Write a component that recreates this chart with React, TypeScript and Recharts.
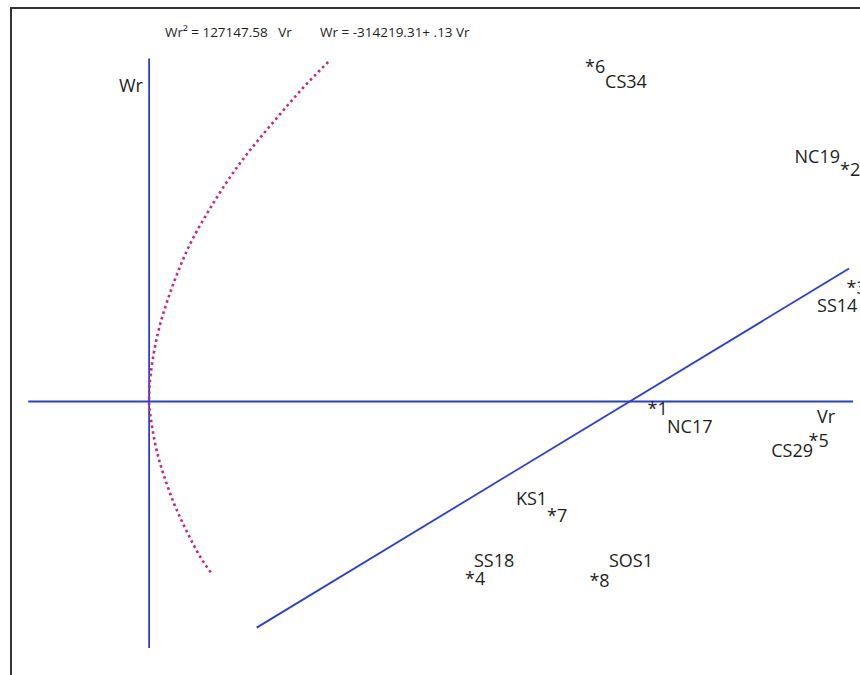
import React from 'react';
import { ComposedChart, Scatter, XAxis, YAxis } from 'recharts';

// Vr and Wr in thousands
const vrDomain = [-750, 3575];
const wrDomain = [-295, 433];

// axis lines through the origin
const vrAxisVr = [-608, 3540];
const vrAxisWr = [0, 0];
const wrAxisVr = [0, 0];
const wrAxisWr = [370, -266];

// regression line, Wr = -314219.31 + .13 Vr
const regressionVr = [541, 3520];
const regressionWr = [-243.9, 143.4];

// parabola Wr² = 127147.58 Vr, traced from upper end to lower end
const parabolaVr = [900.2, 764.4, 633.7, 507.9, 397.3, 301.7, 216.2, 148.4, 93.0, 47.8, 17.6, 2.5, 0, 4.5, 29.7, 69.9, 124.2, 185.6, 257.5, 316.8];
const parabolaWr = [366.1, 336.0, 303.6, 271.2, 238.9, 206.5, 174.2, 141.8, 109.5, 77.1, 44.8, 17.8, 0, -12.4, -44.8, -77.1, -109.5, -138.6, -167.7, -186.0];

// parents
const pointIds = [1, 2, 3, 4, 5, 6, 7, 8];
const pointNames = ['NC17', 'NC19', 'SS14', 'SS18', 'CS29', 'CS34', 'KS1', 'SOS1'];
const pointVr = [2529, 3497, 3530, 1611, 3339, 2215, 2024, 2237];
const pointWr = [-3, 255, 128, -186, -37, 366, -118, -188];

// where each name sits relative to its asterisk
const namePlacement: Record<string, { dx: number; dy: number; anchor: 'start' | 'end' }> = {
  NC17: { dx: 15, dy: 29, anchor: 'start' },
  NC19: { dx: -4.5, dy: -2, anchor: 'end' },
  SS14: { dx: -34, dy: 29, anchor: 'start' },
  SS18: { dx: 4.5, dy: -7, anchor: 'start' },
  CS29: { dx: 0, dy: 21, anchor: 'end' },
  CS34: { dx: 15.5, dy: 26, anchor: 'start' },
  KS1: { dx: -4.5, dy: -6, anchor: 'end' },
  SOS1: { dx: 15, dy: -9, anchor: 'start' },
};

const zip = (vr: number[], wr: number[]) => vr.map((v, i) => ({ vr: v, wr: wr[i] }));

const vrAxisData = zip(vrAxisVr, vrAxisWr);
const wrAxisData = zip(wrAxisVr, wrAxisWr);
const regressionData = zip(regressionVr, regressionWr);
const parabolaData = zip(parabolaVr, parabolaWr);
const pointData = pointIds.map((id, i) => ({ id, name: pointNames[i], vr: pointVr[i], wr: pointWr[i] }));

const BLUE = '#2c3fcc';
const MAGENTA = '#c8287f';
const INK = '#1e1e1e';
const FONT = '"Open Sans", sans-serif';

const noDot = () => <g />;

const ParentMark = (props: any) => {
  const { cx, cy, payload } = props;
  const p = namePlacement[payload.name];
  return (
    <g fontFamily={FONT} fontSize={18} fill={INK}>
      <text x={cx - 4.5} y={cy + 11}>*{payload.id}</text>
      <text x={cx + p.dx} y={cy + p.dy} textAnchor={p.anchor}>{payload.name}</text>
    </g>
  );
};

export default function App() {
  return (
    <div style={{ position: 'absolute', left: 0, top: 0, width: 860, height: 675, background: '#fff' }}>
      <div
        style={{
          position: 'absolute',
          left: 10,
          top: 7,
          right: 0,
          bottom: 0,
          borderTop: '2px solid #333',
          borderLeft: '2px solid #333',
        }}
      />
      <ComposedChart width={860} height={675} margin={{ top: 0, right: 0, bottom: 0, left: 0 }} style={{ position: 'absolute', left: 0, top: 0 }}>
        <XAxis type="number" dataKey="vr" domain={vrDomain} hide allowDataOverflow />
        <YAxis type="number" dataKey="wr" domain={wrDomain} hide allowDataOverflow />
        <Scatter data={vrAxisData} line={{ stroke: BLUE, strokeWidth: 1.8 }} shape={noDot} isAnimationActive={false} />
        <Scatter data={wrAxisData} line={{ stroke: BLUE, strokeWidth: 1.8 }} shape={noDot} isAnimationActive={false} />
        <Scatter data={regressionData} line={{ stroke: BLUE, strokeWidth: 1.8 }} shape={noDot} isAnimationActive={false} />
        <Scatter
          data={parabolaData}
          line={{ stroke: MAGENTA, strokeWidth: 2.6, strokeDasharray: '2.6 3.2' }}
          lineJointType="natural"
          shape={noDot}
          isAnimationActive={false}
        />
        <Scatter data={pointData} shape={ParentMark} isAnimationActive={false} />
      </ComposedChart>
      <svg width={860} height={675} style={{ position: 'absolute', left: 0, top: 0, pointerEvents: 'none' }}>
        <g fontFamily={FONT} fill={INK}>
          <text x={165} y={37} fontSize={13.5} xmlSpace="preserve">Wr² = 127147.58   Vr</text>
          <text x={320} y={37} fontSize={13.5} xmlSpace="preserve">Wr = -314219.31+ .13 Vr</text>
          <text x={119} y={92} fontSize={18}>Wr</text>
          <text x={817} y={423} fontSize={18}>Vr</text>
        </g>
      </svg>
    </div>
  );
}
